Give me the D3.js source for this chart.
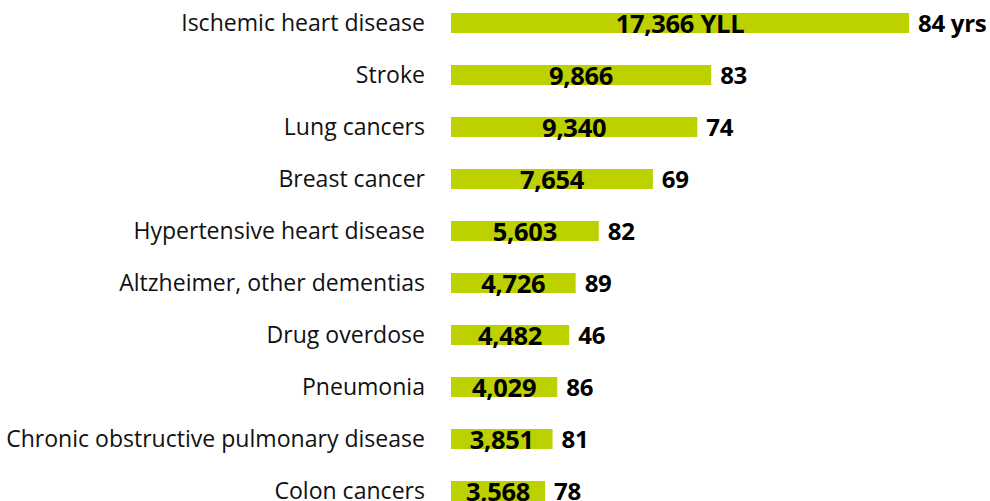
<!DOCTYPE html>
<html><head><meta charset="utf-8">
<script src="https://cdn.jsdelivr.net/npm/d3@7"></script>
<style>body{margin:0;background:#fff}svg{display:block}</style>
</head><body><svg id="c" width="990" height="501"></svg>
<script>
const categories = ["Ischemic heart disease","Stroke","Lung cancers","Breast cancer","Hypertensive heart disease","Altzheimer, other dementias","Drug overdose","Pneumonia","Chronic obstructive pulmonary disease","Colon cancers"];
const yll = [17366,9866,9340,7654,5603,4726,4482,4029,3851,3568];
const ages = [84,83,74,69,82,89,46,86,81,78];

const svg = d3.select("#c");
const x = d3.scaleLinear().domain([0,17366]).range([451,909]);
const y = d3.scalePoint().domain(categories).range([23,491]);
const bh = 20;
const fmt = d3.format(",");

const g = svg.selectAll("g.row").data(categories).join("g").attr("class","row");
g.append("rect").attr("x",x(0)).attr("y",d=>y(d)-bh/2).attr("width",(d,i)=>x(yll[i])-x(0)).attr("height",bh).attr("fill","#bdd000");
const cat = g.append("text").attr("x",425).attr("y",d=>y(d)+8).attr("text-anchor","end")
  .attr("font-family","'Open Sans', sans-serif").attr("font-size",22).attr("fill","#111").text(d=>d);
// fit font size so the longest label matches the reference width
const longest = cat.filter(d=>d===categories[8]).node();
const w = longest.getComputedTextLength();
cat.attr("font-size", 22*419/w);
g.append("text").attr("x",(d,i)=>(x(0)+x(yll[i]))/2).attr("y",d=>y(d)+10).attr("text-anchor","middle")
  .attr("font-family","'Open Sans', sans-serif").attr("font-weight",700).attr("font-size",25.5).attr("letter-spacing",-0.3).attr("fill","#000")
  .text((d,i)=>fmt(yll[i]) + (i===0?" YLL":""));
g.append("text").attr("x",(d,i)=>x(yll[i])+9).attr("y",d=>y(d)+9).attr("text-anchor","start")
  .attr("font-family","'Open Sans', sans-serif").attr("font-weight",700).attr("font-size",24).attr("letter-spacing",-0.3).attr("fill","#000")
  .text((d,i)=>ages[i] + (i===0?" yrs":""));
</script></body></html>
